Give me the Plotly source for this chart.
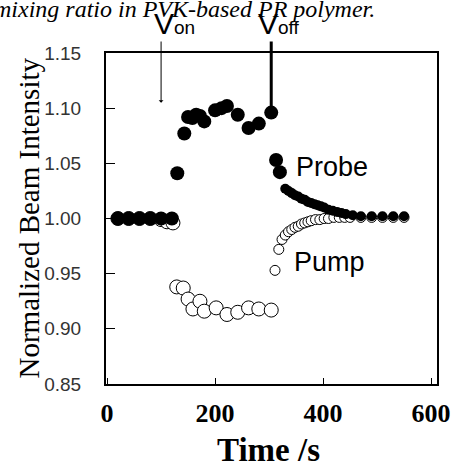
import plotly.graph_objects as go

# ---------------- data ----------------
probe_t = [20, 40, 60, 80, 100, 120, 130, 143, 150, 158, 165, 172, 180, 200, 212, 222,
           242, 262, 281, 304, 313, 320, 330, 336, 342, 348, 354, 360, 366, 372, 378,
           384, 390, 396, 402, 410, 418, 426, 434, 442, 455, 470, 490, 510, 530, 550]
probe_v = [1.000, 1.000, 1.000, 1.000, 1.000, 1.000, 1.041, 1.077, 1.092, 1.091, 1.094,
           1.093, 1.088, 1.098, 1.100, 1.102, 1.094, 1.082, 1.086, 1.096, 1.053, 1.042,
           1.027, 1.025, 1.023, 1.021, 1.020, 1.018, 1.017, 1.015, 1.014, 1.013, 1.012,
           1.011, 1.010, 1.008, 1.007, 1.006, 1.005, 1.004, 1.003, 1.002, 1.002, 1.002,
           1.002, 1.002]

pump_t = [20, 40, 60, 80, 100, 111, 122, 129, 141, 150, 159, 172, 180, 202, 222, 242,
          262, 281, 304, 311, 318, 324, 330, 336, 342, 348, 354, 360, 366, 372, 378,
          386, 394, 402, 410, 420, 430, 440, 450, 470, 490, 510, 530, 550]
pump_v = [1.000, 1.000, 1.000, 1.000, 0.999, 0.997, 0.996, 0.938, 0.937, 0.927, 0.918,
          0.925, 0.916, 0.919, 0.913, 0.915, 0.919, 0.918, 0.917, 0.953, 0.972, 0.981,
          0.985, 0.988, 0.990, 0.992, 0.993, 0.995, 0.996, 0.997, 0.998, 0.999, 0.999,
          1.000, 1.000, 1.001, 1.001, 1.001, 1.001, 1.001, 1.001, 1.001, 1.001, 1.001]

switch_times = [100, 304]          # V_on, V_off
switch_labels = ["V<span style='font-size:19px'>on</span>",
                 "V<span style='font-size:19px'>off</span>"]

x_ticks = [0, 200, 400, 600]
y_ticks = [0.85, 0.90, 0.95, 1.00, 1.05, 1.10, 1.15]
y_ticklabels = ["0.85", "0.90", "0.95", "1.00", "1.05", "1.10", "1.15"]

# ---------------- figure ----------------
W, H = 456, 465
L, R, T, B = 106, 19, 53, 81
YMIN, YMAX = 0.85, 1.15
plot_h = H - T - B


def ypix(v):
    return T + (YMAX - v) / (YMAX - YMIN) * plot_h


def paper_y(px):
    return (H - B - px) / plot_h


def paper_x(px):
    return (px - L) / (W - L - R)


fig = go.Figure()
fig.add_trace(go.Scatter(
    x=pump_t, y=pump_v, mode="markers", name="Pump",
    marker=dict(symbol="circle", color="white", opacity=1,
                size=[14 if t < 310 else 10 for t in pump_t],
                line=dict(color="black", width=1)),
    cliponaxis=False))
fig.add_trace(go.Scatter(
    x=probe_t, y=probe_v, mode="markers", name="Probe",
    marker=dict(symbol="circle", color="black", opacity=1,
                size=[14 if t < 325 else 10 for t in probe_t],
                line=dict(color="black", width=0)),
    cliponaxis=False))

annotations = []
# V_on arrow (thin) and V_off line (thick)
top_px = 40
on_v = 1.105
off_v = probe_v[probe_t.index(switch_times[1])]
annotations.append(dict(x=switch_times[0], y=on_v, xref="x", yref="y", text="",
                        showarrow=True, ax=0, ay=top_px - ypix(on_v),
                        arrowhead=1, arrowsize=0.8, arrowwidth=1, arrowcolor="black"))
annotations.append(dict(x=switch_times[1], y=off_v, xref="x", yref="y", text="",
                        showarrow=True, ax=0, ay=top_px - ypix(off_v),
                        arrowhead=0, arrowwidth=3, arrowcolor="black", standoff=5))
for t, lab, shift in zip(switch_times, switch_labels, [-9, -15]):
    annotations.append(dict(x=t, y=paper_y(23), xref="x", yref="paper", text=lab,
                            showarrow=False, xanchor="left", yanchor="middle",
                            xshift=shift,
                            font=dict(family="Liberation Sans", size=30, color="black")))

# series labels
annotations.append(dict(x=346, y=1.0466, xref="x", yref="y", text="Probe",
                        showarrow=False, xanchor="left", yanchor="middle",
                        font=dict(family="Liberation Sans", size=27, color="black")))
annotations.append(dict(x=342, y=0.961, xref="x", yref="y", text="Pump",
                        showarrow=False, xanchor="left", yanchor="middle",
                        font=dict(family="Liberation Sans", size=27, color="black")))

# axis titles
annotations.append(dict(x=paper_x(28), y=0.5, xref="paper", yref="paper",
                        text="Normalized Beam Intensity", textangle=-90,
                        showarrow=False, xanchor="center", yanchor="middle",
                        font=dict(family="Liberation Serif", size=29, color="black")))
annotations.append(dict(x=paper_x(268), y=paper_y(450), xref="paper", yref="paper",
                        text="<b>Time /s</b>",
                        showarrow=False, xanchor="center", yanchor="middle",
                        font=dict(family="Liberation Serif", size=33, color="black")))
# cut-off caption at top
annotations.append(dict(x=paper_x(377), y=paper_y(24), xref="paper", yref="paper",
                        text="<i>mixing ratio in PVK-based PR polymer.</i>",
                        showarrow=False, xanchor="right", yanchor="bottom",
                        font=dict(family="Liberation Serif", size=24, color="black")))

fig.update_layout(
    width=W, height=H,
    margin=dict(l=L, r=R, t=T, b=B, pad=0, autoexpand=False),
    paper_bgcolor="white", plot_bgcolor="white",
    showlegend=False,
    annotations=annotations,
    xaxis=dict(range=[-2, 611], tickvals=x_ticks, ticktext=[str(v) for v in x_ticks],
               ticks="inside", ticklen=6, tickcolor="black", tickwidth=1,
               showgrid=False, zeroline=False, showline=True, linecolor="black",
               linewidth=2, mirror=True, ticklabelstandoff=5, automargin=False,
               tickfont=dict(family="Liberation Serif", size=26, color="black",
                             weight="bold")),
    yaxis=dict(range=[YMIN, YMAX], tickvals=y_ticks, ticktext=y_ticklabels,
               ticks="inside", ticklen=9, tickcolor="black", tickwidth=1,
               showgrid=False, zeroline=False, showline=True, linecolor="black",
               linewidth=2, mirror=True, ticklabelstandoff=19, automargin=False,
               tickfont=dict(family="Liberation Sans", size=19, color="#333")),
)

fig.write_html("out.html", config={"displayModeBar": False},
               post_script="document.body.style.margin='0';")
